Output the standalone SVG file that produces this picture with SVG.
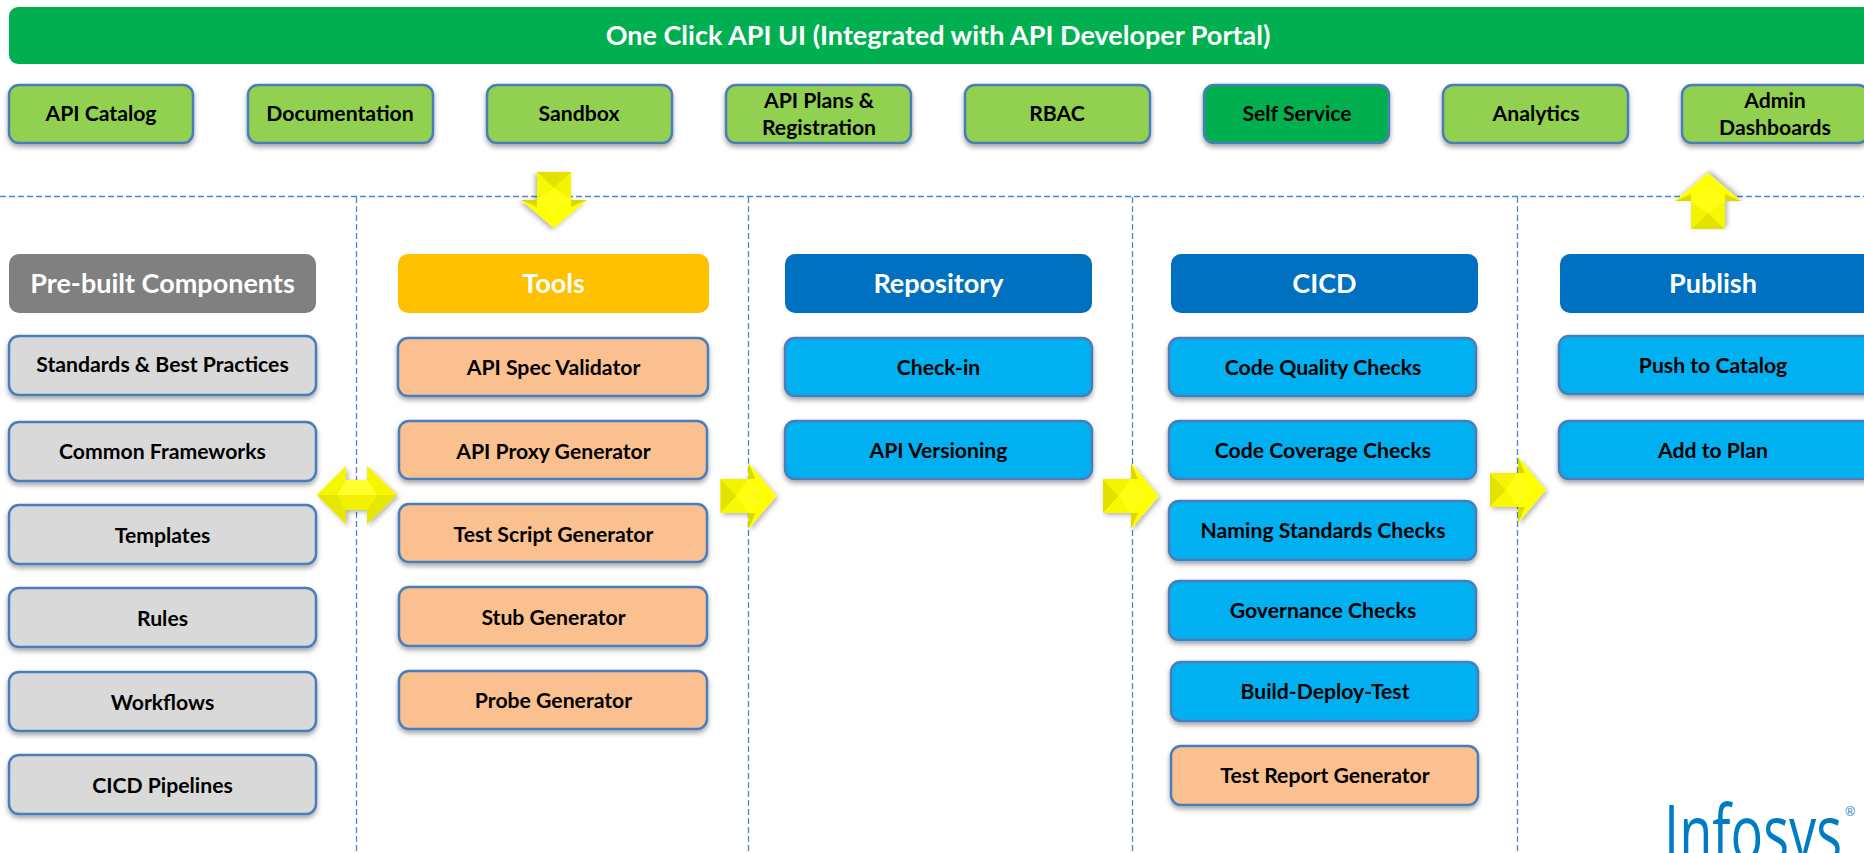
<svg xmlns="http://www.w3.org/2000/svg" xmlns:xlink="http://www.w3.org/1999/xlink" width="1864" height="853" viewBox="0 0 1864 853">
<style>
text{font-family:Lato,"Liberation Sans",sans-serif;font-weight:700;text-anchor:middle;fill:#000;font-size:21.200px}
.h{fill:#fff;font-size:27px}
.b{stroke:#4A7EBB;stroke-width:2.5;filter:url(#s)}
.gl{fill:#92D050}.gd{fill:#00B050}.gy{fill:#D9D9D9}.pe{fill:#FBC08F}.lb{fill:#00B0F0}
.dash{stroke:#4A86C8;stroke-width:1.3;stroke-dasharray:6 3;fill:none}
</style>
<defs>
<filter id="s" x="-10%" y="-20%" width="120%" height="150%"><feDropShadow dx="0" dy="3" stdDeviation="2.5" flood-color="#000" flood-opacity=".35"/></filter>
<filter id="as" x="-30%" y="-30%" width="170%" height="170%"><feDropShadow dx="2" dy="2" stdDeviation="2.500" flood-color="#000" flood-opacity=".3"/></filter>
<g id="arrow">
<polygon points="-28,-17 0,-17 0,-33 28,0 0,33 0,17 -28,17" fill="#FFFF00" filter="url(#as)"/>
<polygon points="-28,-17 -12,0 -28,17" fill="#E2E200"/>
<polygon points="-28,-17 0,-17 -12,0" fill="#F4F400"/>
<polygon points="-28,17 0,17 -12,0" fill="#F8F800"/>
<polygon points="0,-33 0,-17 7,-17" fill="#DADA00"/>
<polygon points="0,33 0,17 7,17" fill="#DADA00"/>
<polygon points="-12,0 0,-17 16,0 0,17" fill="#FFFF14"/>
</g>
</defs>
<rect width="1864" height="853" fill="#fff"/>
<g id="dividers">
<path class="dash" d="M0 196.500H1864M356.500 197V853M748.500 197V853M1132.500 197V853M1517.500 197V853"/>
</g>
<g id="connectors">
<use xlink:href="#arrow" href="#arrow" transform="translate(554 200) rotate(90)"/>
<use xlink:href="#arrow" href="#arrow" transform="translate(1708 201) rotate(-90)"/>
<g id="double-arrow">
<polygon points="317,495 346,466 346,480 367,480 367,466 397,495 367,524 367,510 346,510 346,524" fill="#FFFF00" filter="url(#as)"/>
<polygon points="317,495 337,495 346,510 346,524" fill="#E6E600"/>
<polygon points="397,495 377,495 367,510 367,524" fill="#E6E600"/>
<polygon points="317,495 346,466 346,480 337,495" fill="#F6F600"/>
<polygon points="397,495 367,466 367,480 377,495" fill="#F6F600"/>
<polygon points="337,495 346,480 367,480 377,495" fill="#FFFF30"/>
<polygon points="337,495 346,510 367,510 377,495" fill="#F2F200"/>
</g>
<use xlink:href="#arrow" href="#arrow" transform="translate(748.500 496)"/>
<use xlink:href="#arrow" href="#arrow" transform="translate(1131 496)"/>
<use xlink:href="#arrow" href="#arrow" transform="translate(1518 490)"/>
</g>
<g id="title"><rect x="9" y="7" width="1870" height="57" rx="9" class="gd"/><text class="h" x="938" y="45">One Click API UI (Integrated with API Developer Portal)</text></g>
<g id="api-catalog"><rect class="b gl" x="9" y="85" width="184" height="58" rx="10"/><text x="101" y="121">API Catalog</text></g>
<g id="documentation"><rect class="b gl" x="248" y="85" width="185" height="58" rx="10"/><text x="340" y="121">Documentation</text></g>
<g id="sandbox"><rect class="b gl" x="487" y="85" width="185" height="58" rx="10"/><text x="579" y="121">Sandbox</text></g>
<g id="api-plans"><rect class="b gl" x="726" y="85" width="185" height="58" rx="10"/><text x="819" y="108">API Plans &amp;</text><text x="819" y="135">Registration</text></g>
<g id="rbac"><rect class="b gl" x="965" y="85" width="185" height="58" rx="10"/><text x="1057" y="121">RBAC</text></g>
<g id="self-service"><rect class="b gd" x="1204" y="85" width="185" height="58" rx="10"/><text x="1297" y="121">Self Service</text></g>
<g id="analytics"><rect class="b gl" x="1443" y="85" width="185" height="58" rx="10"/><text x="1536" y="121">Analytics</text></g>
<g id="admin"><rect class="b gl" x="1682" y="85" width="186" height="58" rx="10"/><text x="1775" y="108">Admin</text><text x="1775" y="135">Dashboards</text></g>

<g id="prebuilt"><rect x="9" y="254" width="307" height="59" rx="10" fill="#808080"/><text class="h" x="162.500" y="293">Pre-built Components</text></g>
<g id="standards"><rect class="b gy" x="9" y="336" width="307" height="59" rx="10"/><text x="162.500" y="372">Standards &amp; Best Practices</text></g>
<g id="frameworks"><rect class="b gy" x="9" y="422" width="307" height="59" rx="10"/><text x="162.500" y="459">Common Frameworks</text></g>
<g id="templates"><rect class="b gy" x="9" y="505" width="307" height="59" rx="10"/><text x="162.500" y="543">Templates</text></g>
<g id="rules"><rect class="b gy" x="9" y="588" width="307" height="59" rx="10"/><text x="162.500" y="626">Rules</text></g>
<g id="workflows"><rect class="b gy" x="9" y="672" width="307" height="59" rx="10"/><text x="162.500" y="710">Workflows</text></g>
<g id="pipelines"><rect class="b gy" x="9" y="755" width="307" height="59" rx="10"/><text x="162.500" y="793">CICD Pipelines</text></g>

<g id="tools"><rect x="398" y="254" width="311" height="59" rx="10" fill="#FFC000"/><text class="h" x="553.500" y="293">Tools</text></g>
<g id="spec-validator"><rect class="b pe" x="398" y="338" width="310" height="58" rx="10"/><text x="553.500" y="375">API Spec Validator</text></g>
<g id="proxy-generator"><rect class="b pe" x="399" y="421" width="308" height="58" rx="10"/><text x="553.500" y="459">API Proxy Generator</text></g>
<g id="script-generator"><rect class="b pe" x="399" y="504" width="308" height="58" rx="10"/><text x="553.500" y="542">Test Script Generator</text></g>
<g id="stub-generator"><rect class="b pe" x="399" y="587" width="308" height="59" rx="10"/><text x="553.500" y="625">Stub Generator</text></g>
<g id="probe-generator"><rect class="b pe" x="399" y="671" width="308" height="58" rx="10"/><text x="553.500" y="708">Probe Generator</text></g>

<g id="repository"><rect x="785" y="254" width="307" height="59" rx="10" fill="#0070C0"/><text class="h" x="938.500" y="293">Repository</text></g>
<g id="check-in"><rect class="b lb" x="785" y="338" width="307" height="58" rx="10"/><text x="938.500" y="375">Check-in</text></g>
<g id="versioning"><rect class="b lb" x="785" y="421" width="307" height="58" rx="10"/><text x="938.500" y="458">API Versioning</text></g>

<g id="cicd"><rect x="1171" y="254" width="307" height="59" rx="10" fill="#0070C0"/><text class="h" x="1324.500" y="293">CICD</text></g>
<g id="quality"><rect class="b lb" x="1169" y="338" width="307" height="58" rx="10"/><text x="1323" y="375">Code Quality Checks</text></g>
<g id="coverage"><rect class="b lb" x="1169" y="421" width="307" height="58" rx="10"/><text x="1323" y="458">Code Coverage Checks</text></g>
<g id="naming"><rect class="b lb" x="1169" y="501" width="307" height="59" rx="10"/><text x="1323" y="538">Naming Standards Checks</text></g>
<g id="governance"><rect class="b lb" x="1169" y="581" width="307" height="59" rx="10"/><text x="1323" y="618">Governance Checks</text></g>
<g id="build"><rect class="b lb" x="1171" y="662" width="307" height="59" rx="10"/><text x="1325" y="699">Build-Deploy-Test</text></g>
<g id="report"><rect class="b pe" x="1171" y="746" width="307" height="59" rx="10"/><text x="1325" y="783">Test Report Generator</text></g>

<g id="publish"><rect x="1560" y="254" width="330" height="59" rx="10" fill="#0070C0"/><text class="h" x="1713" y="293">Publish</text></g>
<g id="push"><rect class="b lb" x="1559" y="336" width="330" height="58" rx="10"/><text x="1713" y="373">Push to Catalog</text></g>
<g id="plan"><rect class="b lb" x="1559" y="421" width="330" height="58" rx="10"/><text x="1713" y="458">Add to Plan</text></g>

<g id="logo"><text x="1664" y="860" style="text-anchor:start;font-weight:400;font-size:76px;fill:#007CC3;font-family:'Open Sans',sans-serif" textLength="178" lengthAdjust="spacingAndGlyphs">Infosys</text><text x="1850" y="816" style="font-weight:400;font-size:13px;fill:#007CC3;font-family:'Liberation Sans',sans-serif">®</text></g>
</svg>
